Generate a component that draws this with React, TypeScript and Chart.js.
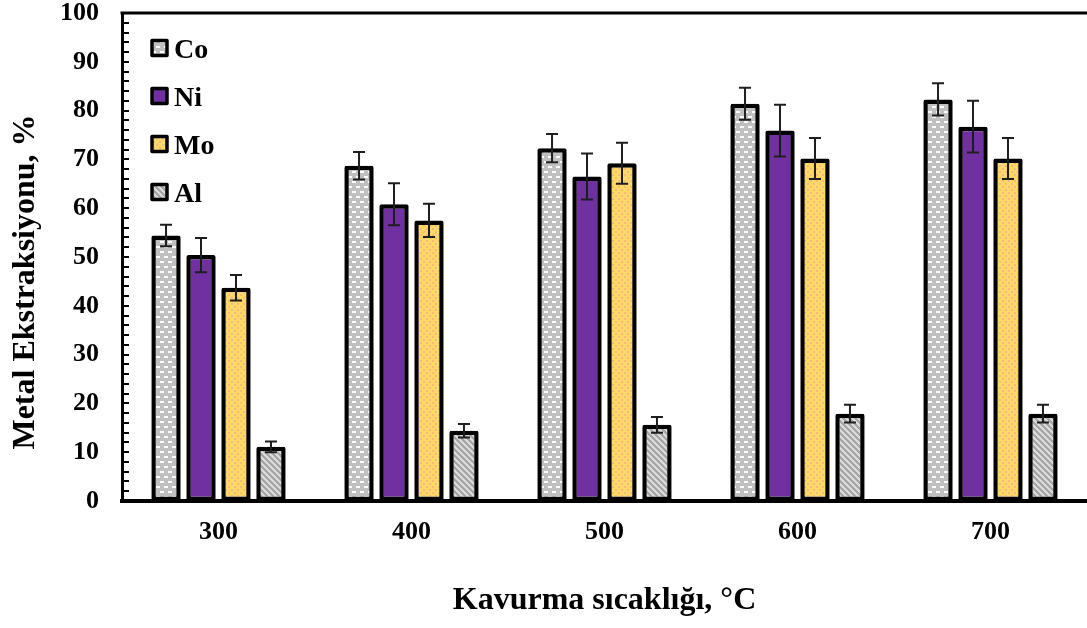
import React, { useEffect, useRef } from 'react';
import { Chart, registerables } from 'chart.js';

Chart.register(...registerables);

const categories = ['300', '400', '500', '600', '700'];
const seriesNames = ['Co', 'Ni', 'Mo', 'Al'];
const coValues = [54.4, 68.7, 72.3, 81.4, 82.3];
const coErrors = [2.2, 2.8, 2.9, 3.3, 3.3];
const niValues = [50.4, 60.8, 66.5, 75.9, 76.7];
const niErrors = [3.5, 4.3, 4.7, 5.3, 5.3];
const moValues = [43.7, 57.5, 69.2, 70.2, 70.2];
const moErrors = [2.6, 3.4, 4.2, 4.2, 4.2];
const alValues = [11.1, 14.4, 15.6, 17.9, 17.9];
const alErrors = [1.1, 1.4, 1.6, 1.8, 1.8];
const yMin = 0;
const yMax = 100;
const yMinorStep = 2;
const yLabelStep = 10;
const xTitle = 'Kavurma sıcaklığı, °C';
const yTitle = 'Metal Ekstraksiyonu, %';

const FONT = "'Liberation Serif', 'Times New Roman', serif";

function makeTile(w: number, h: number, draw: (c: CanvasRenderingContext2D) => void) {
  const cv = document.createElement('canvas');
  cv.width = w;
  cv.height = h;
  const c = cv.getContext('2d')!;
  draw(c);
  return cv;
}

function makePatterns(ctx: CanvasRenderingContext2D) {
  const co = makeTile(8, 10, (c) => {
    c.fillStyle = '#C0C0C0';
    c.fillRect(0, 0, 8, 10);
    c.fillStyle = 'rgba(255,255,255,0.95)';
    c.fillRect(0, 1, 4, 2);
    c.fillRect(4, 6, 4, 2);
  });
  const ni = '#7030A0';
  const mo = makeTile(6, 6, (c) => {
    c.fillStyle = '#FFD966';
    c.fillRect(0, 0, 6, 6);
    c.fillStyle = '#F6B97E';
    c.fillRect(0, 0, 2, 2);
    c.fillRect(3, 3, 2, 2);
  });
  const al = makeTile(6, 6, (c) => {
    for (let x = 0; x < 6; x++) {
      for (let y = 0; y < 6; y++) {
        const k = (((y - x) % 6) + 6) % 6;
        c.fillStyle = k < 3 ? '#A6A6A6' : '#DADADA';
        c.fillRect(x, y, 1, 1);
      }
    }
  });
  return [
    ctx.createPattern(co, 'repeat')!,
    ni,
    ctx.createPattern(mo, 'repeat')!,
    ctx.createPattern(al, 'repeat')!,
  ];
}

const errorBarPlugin = {
  id: 'errorBars',
  afterDatasetsDraw(chart: any) {
    const ctx = chart.ctx;
    const ys = chart.scales.y;
    chart.data.datasets.forEach((ds: any, i: number) => {
      const meta = chart.getDatasetMeta(i);
      meta.data.forEach((bar: any, j: number) => {
        const v = ds.data[j];
        const e = ds.errors[j];
        const x = bar.x;
        const yTop = ys.getPixelForValue(v + e);
        const yBot = ys.getPixelForValue(v - e);
        ctx.save();
        ctx.strokeStyle = '#1e1e1e';
        ctx.lineWidth = 2;
        ctx.beginPath();
        ctx.moveTo(x, yTop);
        ctx.lineTo(x, yBot);
        ctx.moveTo(x - 6, yTop);
        ctx.lineTo(x + 6, yTop);
        ctx.moveTo(x - 6, yBot);
        ctx.lineTo(x + 6, yBot);
        ctx.stroke();
        ctx.restore();
      });
    });
  },
};

const framePlugin = {
  id: 'frame',
  afterDraw(chart: any) {
    const ctx = chart.ctx;
    const { left, right, top, bottom } = chart.chartArea;
    const ys = chart.scales.y;
    ctx.save();
    ctx.strokeStyle = '#000';
    ctx.lineWidth = 3;
    ctx.beginPath();
    ctx.moveTo(left - 1.5, top);
    ctx.lineTo(right, top);
    ctx.stroke();
    ctx.lineWidth = 2;
    ctx.beginPath();
    ys.ticks.forEach((t: any) => {
      const y = Math.round(ys.getPixelForValue(t.value));
      if (t.value === yMax) return;
      ctx.moveTo(left, y);
      ctx.lineTo(left + 7, y);
    });
    ctx.stroke();
    // y-axis title (offset downward as in the reference)
    ctx.translate(26, (top + bottom) / 2 + 25);
    ctx.rotate(-Math.PI / 2);
    ctx.fillStyle = '#000';
    ctx.font = `bold 32px ${FONT}`;
    ctx.textAlign = 'center';
    ctx.textBaseline = 'middle';
    ctx.fillText(yTitle, 0, 0);
    ctx.restore();
  },
};

const legendPlugin = {
  id: 'insideLegend',
  afterDraw(chart: any) {
    const ctx = chart.ctx;
    const { left, top } = chart.chartArea;
    ctx.save();
    chart.data.datasets.forEach((ds: any, i: number) => {
      const cy = top + 35 + i * 48;
      const bx = left + 30;
      const size = 15;
      ctx.fillStyle = ds.backgroundColor;
      ctx.fillRect(bx, cy - size / 2, size, size);
      ctx.strokeStyle = '#000';
      ctx.lineWidth = 3.5;
      ctx.lineJoin = 'round';
      ctx.strokeRect(bx, cy - size / 2, size, size);
      ctx.fillStyle = '#000';
      ctx.font = `bold 28px ${FONT}`;
      ctx.textBaseline = 'alphabetic';
      ctx.textAlign = 'left';
      ctx.fillText(ds.label, bx + 22, cy + 9.5);
    });
    ctx.restore();
  },
};

export default function App() {
  const ref = useRef<HTMLCanvasElement>(null);

  useEffect(() => {
    const canvas = ref.current!;
    const ctx = canvas.getContext('2d')!;
    const fills = makePatterns(ctx);
    const values = [coValues, niValues, moValues, alValues];
    const errors = [coErrors, niErrors, moErrors, alErrors];
    const chart = new Chart(canvas, {
      type: 'bar',
      data: {
        labels: categories,
        datasets: seriesNames.map((name, i) => ({
          label: name,
          data: values[i],
          errors: errors[i],
          backgroundColor: fills[i] as any,
          borderColor: '#000',
          borderWidth: 4.5,
          borderSkipped: false,
          borderRadius: 2,
          categoryPercentage: 0.725,
          barPercentage: 0.84,
        })) as any,
      },
      options: {
        animation: false,
        responsive: true,
        maintainAspectRatio: false,
        layout: { padding: 0 },
        plugins: {
          legend: { display: false },
          tooltip: { enabled: false },
        },
        scales: {
          x: {
            grid: { display: false, drawTicks: false },
            border: { display: true, color: '#000', width: 4 },
            ticks: {
              color: '#000',
              padding: 16,
              font: { family: FONT, size: 26, weight: 'bold' },
            },
            title: {
              display: true,
              text: xTitle,
              color: '#000',
              font: { family: FONT, size: 32, weight: 'bold' },
              padding: { top: 0, bottom: 8 },
            },
            afterFit: (scale: any) => {
              scale.height = 127;
            },
          },
          y: {
            min: yMin,
            max: yMax,
            grid: { display: false, drawTicks: false },
            border: { display: true, color: '#000', width: 3 },
            ticks: {
              stepSize: yMinorStep,
              autoSkip: false,
              color: '#000',
              padding: 23,
              font: { family: FONT, size: 26, weight: 'bold' },
              callback: (v: any) => (Number(v) % yLabelStep === 0 ? String(v) : ''),
            },
            title: { display: false },
            afterFit: (scale: any) => {
              scale.width = 122;
              scale.paddingTop = 13;
            },
          },
        },
      },
      plugins: [errorBarPlugin, framePlugin, legendPlugin],
    });
    return () => chart.destroy();
  }, []);

  return (
    <div style={{ position: 'absolute', left: 0, top: 0, width: 1087, height: 628, background: '#fff' }}>
      <canvas ref={ref} />
    </div>
  );
}
